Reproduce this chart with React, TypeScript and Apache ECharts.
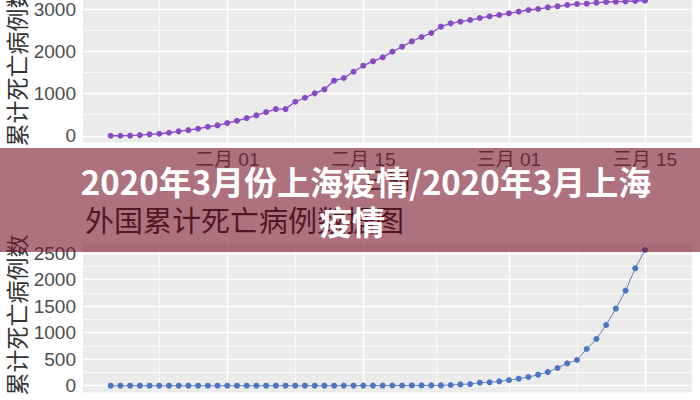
import React, { useEffect, useRef } from 'react';
import * as echarts from 'echarts';

// ---------- data ----------
const dates = [
  '2020-01-20', '2020-01-21', '2020-01-22', '2020-01-23', '2020-01-24', '2020-01-25', '2020-01-26',
  '2020-01-27', '2020-01-28', '2020-01-29', '2020-01-30', '2020-01-31', '2020-02-01', '2020-02-02',
  '2020-02-03', '2020-02-04', '2020-02-05', '2020-02-06', '2020-02-07', '2020-02-08', '2020-02-09',
  '2020-02-10', '2020-02-11', '2020-02-12', '2020-02-13', '2020-02-14', '2020-02-15', '2020-02-16',
  '2020-02-17', '2020-02-18', '2020-02-19', '2020-02-20', '2020-02-21', '2020-02-22', '2020-02-23',
  '2020-02-24', '2020-02-25', '2020-02-26', '2020-02-27', '2020-02-28', '2020-02-29', '2020-03-01',
  '2020-03-02', '2020-03-03', '2020-03-04', '2020-03-05', '2020-03-06', '2020-03-07', '2020-03-08',
  '2020-03-09', '2020-03-10', '2020-03-11', '2020-03-12', '2020-03-13', '2020-03-14', '2020-03-15',
];

// upper panel: cumulative deaths (China)
const chinaDeaths = [
  0, 0, 5, 15, 33, 48, 71, 104, 135, 166, 214, 246, 301, 356,
  420, 484, 563, 634, 634, 807, 902, 1006, 1101, 1306, 1370, 1519, 1662, 1766,
  1861, 1994, 2113, 2240, 2343, 2438, 2587, 2668, 2706, 2746, 2794, 2834, 2865, 2905,
  2943, 2984, 3007, 3048, 3071, 3102, 3126, 3133, 3157, 3173, 3181, 3189, 3197, 3204,
];

// lower panel: cumulative deaths outside China
const foreignDeaths = [
  0, 0, 0, 0, 0, 0, 0, 0, 0, 0, 0, 0, 0, 1,
  1, 1, 1, 1, 1, 1, 1, 1, 1, 1, 2, 2, 2, 2,
  3, 4, 4, 5, 6, 6, 6, 13, 25, 31, 57, 63, 82, 107,
  132, 164, 208, 258, 334, 422, 485, 692, 881, 1145, 1453, 1793, 2215, 2560,
];

const xTickDates = ['2020-02-01', '2020-02-15', '2020-03-01', '2020-03-15'];
const xTickLabels = ['二月 01', '二月 15', '三月 01', '三月 15'];
const xMinorDates = ['2020-01-25T00:00:00Z', '2020-02-08T00:00:00Z', '2020-02-22T12:00:00Z', '2020-03-08T00:00:00Z'];

const topYTicks = [0, 1000, 2000, 3000];
const topYMinor = [500, 1500, 2500];
const bottomYTicks = [0, 500, 1000, 1500, 2000, 2500];
const bottomYMinor = [250, 750, 1250, 1750, 2250];

const yTitle = '累计死亡病例数';
const xTitle = '日期';
const bottomTitle = '外国累计死亡病例数据图';
const bannerLine1 = '2020年3月份上海疫情/2020年3月上海';
const bannerLine2 = '疫情';

// ---------- helpers ----------
const DAY = 86400000;
const parseDate = (s: string) => Date.parse(s.length === 10 ? s + 'T00:00:00Z' : s);
const T0 = parseDate(dates[0]);
const dayOf = (s: string) => (parseDate(s) - T0) / DAY;
const dayIdx = dates.map(dayOf);
const xTickDays = xTickDates.map(dayOf);
const xMinorDays = xMinorDates.map(dayOf);

const LATIN = "'Liberation Sans', 'Noto Sans CJK SC', sans-serif";
const CJK = "'Noto Sans CJK SC', sans-serif";
const PANEL = '#EBEBEB';
const GRID_MAJOR = { color: '#FFFFFF', width: 1.4, type: 'solid' as const };
const GRID_MINOR = { color: '#FFFFFF', width: 0.7, type: 'solid' as const };

function gridLines(yMajor: number[], yMinor: number[]) {
  return [
    ...yMinor.map((v) => ({ yAxis: v, lineStyle: GRID_MINOR })),
    ...xMinorDays.map((v) => ({ xAxis: v, lineStyle: GRID_MINOR })),
    ...yMajor.map((v) => ({ yAxis: v, lineStyle: GRID_MAJOR })),
    ...xTickDays.map((v) => ({ xAxis: v, lineStyle: GRID_MAJOR })),
  ];
}

function xAxisFor(gridIndex: number) {
  return {
    type: 'value',
    gridIndex,
    min: -2.85,
    max: 59.84,
    axisLine: { show: false },
    axisTick: { show: true, length: 4, customValues: xTickDays, lineStyle: { color: '#333333', width: 1 } },
    axisLabel: {
      show: true,
      customValues: xTickDays,
      formatter: (v: number) => {
        const i = xTickDays.findIndex((d) => Math.abs(d - v) < 0.01);
        return i >= 0 ? xTickLabels[i] : '';
      },
      color: '#4D4D4D',
      fontSize: 19,
      fontFamily: LATIN,
      margin: 7,
    },
    splitLine: { show: false },
  };
}

function yAxisFor(gridIndex: number, min: number, max: number, ticks: number[]) {
  return {
    type: 'value',
    gridIndex,
    min,
    max,
    axisLine: { show: false },
    axisTick: { show: true, length: 5, customValues: ticks, lineStyle: { color: '#333333', width: 1 } },
    axisLabel: {
      show: true,
      customValues: ticks,
      formatter: (v: number) => String(v),
      color: '#4D4D4D',
      fontSize: 19,
      fontFamily: LATIN,
      margin: 7,
    },
    splitLine: { show: false },
  };
}

export default function App() {
  const ref = useRef<HTMLDivElement>(null);

  useEffect(() => {
    if (!ref.current) return;
    const chart = echarts.init(ref.current, undefined, { renderer: 'svg' });
    const option = {
      animation: false,
      backgroundColor: '#FFFFFF',
      grid: [
        { left: 83, right: 8, top: 0, bottom: 257.5, show: true, backgroundColor: PANEL, borderWidth: 0, outerBoundsMode: 'none', containLabel: false },
        { left: 83, right: 8, top: 243.2, bottom: 7.5, show: true, backgroundColor: PANEL, borderWidth: 0, outerBoundsMode: 'none', containLabel: false },
      ],
      xAxis: [xAxisFor(0), xAxisFor(1)],
      yAxis: [
        yAxisFor(0, -160, 3221, topYTicks),
        yAxisFor(1, -128, 2688, bottomYTicks),
      ],
      series: [
        {
          type: 'line',
          xAxisIndex: 0,
          yAxisIndex: 0,
          data: chinaDeaths.map((v, i) => [dayIdx[i], v]),
          symbol: 'circle',
          symbolSize: 6,
          itemStyle: { color: '#8A49C6' },
          lineStyle: { color: '#8A49C6', width: 1.3 },
          z: 3,
          markLine: {
            silent: true,
            symbol: 'none',
            z: 1,
            label: { show: false },
            data: gridLines(topYTicks, topYMinor),
          },
        },
        {
          type: 'line',
          xAxisIndex: 1,
          yAxisIndex: 1,
          data: foreignDeaths.map((v, i) => [dayIdx[i], v]),
          symbol: 'circle',
          symbolSize: 6,
          itemStyle: { color: '#4A76C4' },
          lineStyle: { color: '#6680B4', width: 1 },
          z: 3,
          markLine: {
            silent: true,
            symbol: 'none',
            z: 1,
            label: { show: false },
            data: gridLines(bottomYTicks, bottomYMinor),
          },
        },
      ],
      graphic: [
        {
          type: 'text', x: 16, y: 66, rotation: Math.PI / 2, z: 5,
          style: { text: yTitle, align: 'center', verticalAlign: 'middle', font: `23px ${CJK}`, fill: '#333333' },
        },
        {
          type: 'text', x: 16, y: 315, rotation: Math.PI / 2, z: 5,
          style: { text: yTitle, align: 'center', verticalAlign: 'middle', font: `23px ${CJK}`, fill: '#333333' },
        },
        {
          type: 'text', x: 387, y: 179, z: 5,
          style: { text: xTitle, align: 'center', verticalAlign: 'middle', font: `23px ${CJK}`, fill: '#333333' },
        },
        {
          type: 'text', x: 85, y: 219, z: 5,
          style: { text: bottomTitle, align: 'left', verticalAlign: 'middle', font: `29px ${CJK}`, fill: '#1A1A1A' },
        },
        {
          type: 'rect', z: 100,
          shape: { x: 0, y: 148, width: 700, height: 104 },
          style: { fill: 'rgba(120, 20, 40, 0.6)' },
        },
        {
          type: 'text', x: 366, y: 181, z: 101,
          style: {
            text: bannerLine1,
            align: 'center',
            verticalAlign: 'middle',
            font: `bold 33px ${CJK}`,
            fill: '#FFFFFF',
          },
        },
        {
          type: 'text', x: 352, y: 221, z: 101,
          style: {
            text: bannerLine2,
            align: 'center',
            verticalAlign: 'middle',
            font: `bold 33px ${CJK}`,
            fill: '#FFFFFF',
          },
        },
      ],
    };
    chart.setOption(option as any);
    return () => chart.dispose();
  }, []);

  return (
    <div
      ref={ref}
      style={{ position: 'absolute', left: 0, top: 0, width: 700, height: 400 }}
    />
  );
}
